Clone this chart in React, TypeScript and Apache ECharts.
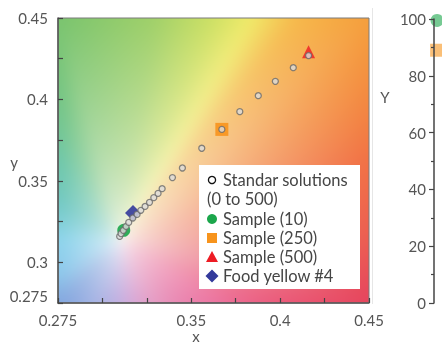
import React, { useEffect, useRef } from "react";
import * as echarts from "echarts";

// ---- data ----
const xTickLabels = ["0.275", "0.35", "0.4", "0.45"];
const yTickLabels = ["0.275", "0.3", "0.35", "0.4", "0.45"];
const rightTickLabels = ["0", "20", "40", "60", "80", "100"];

const stdX = [0.3097, 0.3105, 0.3118, 0.3133, 0.3148, 0.3171, 0.3195, 0.3216, 0.324, 0.3265, 0.3289, 0.3313, 0.3336, 0.3394, 0.345, 0.3559, 0.3672, 0.3773, 0.3877, 0.3973, 0.4074, 0.416];
const stdY = [0.3159, 0.3176, 0.3196, 0.322, 0.3245, 0.3272, 0.3294, 0.3319, 0.3343, 0.3368, 0.3397, 0.3423, 0.3452, 0.352, 0.3579, 0.37, 0.3816, 0.3925, 0.4023, 0.4111, 0.4195, 0.4269];

const sample10 = [[0.312, 0.3196]];
const sample250 = [[0.3672, 0.3816]];
const sample500 = [[0.416, 0.4293]];
const foodYellow4 = [[0.3172, 0.3303]];

// partially visible marks of the neighbouring panel (cut off by the picture's edge)
const rightGreen = [[1.4, 99.5]];
const rightOrange = [[1.2, 89]];

const legendNames = ["Standar solutions", "(0 to 500)", "Sample (10)", "Sample (250)", "Sample (500)", "Food yellow #4"];

// ---- layout / style ----
const GL = 58, GT = 18, GW = 311, GH = 285;
const FONT = "Lato, 'Open Sans', sans-serif";
const C_GREEN = "#1ba64b";
const C_ORANGE = "#f7941d";
const C_RED = "#ed1c24";
const C_BLUE = "#333a9b";

// hue anchors (degrees around the white point) for the chromaticity-like background
const hueAnchors: [number, number[]][] = [
  [0, [236, 92, 80]],
  [19, [241, 112, 68]],
  [44, [245, 158, 60]],
  [54, [246, 185, 75]],
  [61.5, [240, 234, 105]],
  [69, [205, 224, 100]],
  [82, [160, 208, 105]],
  [104, [122, 196, 110]],
  [110, [115, 196, 128]],
  [124, [108, 198, 168]],
  [146, [112, 200, 195]],
  [180, [140, 212, 236]],
  [212, [140, 200, 235]],
  [229, [130, 165, 222]],
  [248, [165, 180, 228]],
  [270, [195, 175, 225]],
  [280, [215, 168, 215]],
  [297, [230, 155, 195]],
  [325, [236, 115, 160]],
  [340, [234, 82, 112]],
  [345, [230, 68, 92]],
  [360, [236, 92, 80]],
];

function hueColor(a: number) {
  for (let i = 0; i < hueAnchors.length - 1; i++) {
    const [a0, c0] = hueAnchors[i];
    const [a1, c1] = hueAnchors[i + 1];
    if (a >= a0 && a <= a1) {
      const t = (a - a0) / (a1 - a0 || 1);
      return [0, 1, 2].map((k) => c0[k] + (c1[k] - c0[k]) * t);
    }
  }
  return hueAnchors[0][1];
}

function boxBlur(src: Float32Array, w: number, h: number, r: number) {
  const tmp = new Float32Array(src.length);
  // horizontal
  for (let y = 0; y < h; y++) {
    for (let x = 0; x < w; x++) {
      let s0 = 0, s1 = 0, s2 = 0, n = 0;
      for (let k = -r; k <= r; k++) {
        const xx = Math.min(w - 1, Math.max(0, x + k));
        const i = (y * w + xx) * 3;
        s0 += src[i]; s1 += src[i + 1]; s2 += src[i + 2]; n++;
      }
      const o = (y * w + x) * 3;
      tmp[o] = s0 / n; tmp[o + 1] = s1 / n; tmp[o + 2] = s2 / n;
    }
  }
  // vertical
  for (let x = 0; x < w; x++) {
    for (let y = 0; y < h; y++) {
      let s0 = 0, s1 = 0, s2 = 0, n = 0;
      for (let k = -r; k <= r; k++) {
        const yy = Math.min(h - 1, Math.max(0, y + k));
        const i = (yy * w + x) * 3;
        s0 += tmp[i]; s1 += tmp[i + 1]; s2 += tmp[i + 2]; n++;
      }
      const o = (y * w + x) * 3;
      src[o] = s0 / n; src[o + 1] = s1 / n; src[o + 2] = s2 / n;
    }
  }
}

function buildBackground(w: number, h: number): string {
  const cv = document.createElement("canvas");
  cv.width = w;
  cv.height = h;
  const ctx = cv.getContext("2d")!;
  const buf = new Float32Array(w * h * 3);
  const wu = 0.2, wv = 0.22;
  for (let py = 0; py < h; py++) {
    for (let px = 0; px < w; px++) {
      const u = px / (w - 1);
      const v = 1 - py / (h - 1);
      const dx = u - wu, dy = v - wv;
      const r = Math.sqrt(dx * dx + dy * dy);
      let ang = (Math.atan2(dy, dx) * 180) / Math.PI;
      if (ang < 0) ang += 360;
      let col = [250, 250, 250];
      if (r > 1e-6) {
        const cx = dx / r, cy = dy / r;
        let te = 1e9;
        if (cx > 0) te = Math.min(te, (1 - wu) / cx);
        if (cx < 0) te = Math.min(te, -wu / cx);
        if (cy > 0) te = Math.min(te, (1 - wv) / cy);
        if (cy < 0) te = Math.min(te, -wv / cy);
        const s = Math.pow(Math.min(1, r / te), 0.6);
        const hc = hueColor(ang);
        col = [0, 1, 2].map((k) => 250 + (hc[k] - 250) * s);
      }
      const o = (py * w + px) * 3;
      buf[o] = col[0]; buf[o + 1] = col[1]; buf[o + 2] = col[2];
    }
  }
  boxBlur(buf, w, h, 7);
  boxBlur(buf, w, h, 7);
  const img = ctx.createImageData(w, h);
  for (let i = 0; i < w * h; i++) {
    img.data[i * 4] = buf[i * 3];
    img.data[i * 4 + 1] = buf[i * 3 + 1];
    img.data[i * 4 + 2] = buf[i * 3 + 2];
    img.data[i * 4 + 3] = 255;
  }
  ctx.putImageData(img, 0, 0);
  return cv.toDataURL("image/png");
}

const findLabel = (v: number, list: string[]) => list.find((s) => Math.abs(parseFloat(s) - v) < 1e-6);

export default function App() {
  const ref = useRef<HTMLDivElement>(null);
  useEffect(() => {
    if (!ref.current) return;
    const chart = echarts.init(ref.current, undefined, { renderer: "svg" });
    const bg = buildBackground(GW, GH);
    const stdData = stdX.map((x, i) => [x, stdY[i]]);

    const LX = 199, LY = 165, LW = 161, LH = 124;
    const iconX = 212, textX = 223;
    const rows = [180, 199, 219, 238, 257, 276];
    const textStyleBase = { fontSize: 16.5, fontFamily: FONT, fill: "#454545", verticalAlign: "middle", align: "left" };

    const option: any = {
      animation: false,
      grid: [
        { left: GL, top: GT, width: GW, height: GH, show: true, borderColor: "#7a7a7a", borderWidth: 1, backgroundColor: "transparent" },
        { left: 434, top: 19, right: -80, height: 284 },
      ],
      xAxis: [
        {
          gridIndex: 0, type: "value", min: 0.275, max: 0.45, interval: 0.025, z: 10,
          axisLine: { show: true, onZero: false, lineStyle: { color: "#555", width: 1.5 } },
          axisTick: { show: true, inside: true, length: 5, lineStyle: { color: "#444", width: 1.2 } },
          axisLabel: {
            show: true, margin: 9, fontSize: 15, fontFamily: FONT, color: "#555",
            formatter: (v: number) => findLabel(v, xTickLabels) || "",
          },
          splitLine: { show: false },
        },
        { gridIndex: 1, type: "value", min: 0, max: 10, show: false },
      ],
      yAxis: [
        {
          gridIndex: 0, type: "value", min: 0.275, max: 0.45, interval: 0.025, z: 10,
          axisLine: { show: true, onZero: false, lineStyle: { color: "#555", width: 1.5 } },
          axisTick: { show: true, inside: true, length: 5, lineStyle: { color: "#444", width: 1.2 } },
          axisLabel: {
            show: true, margin: 10, fontSize: 15, fontFamily: FONT, color: "#555",
            formatter: (v: number) => {
              const s = findLabel(v, yTickLabels);
              if (!s) return "";
              return Math.abs(v - 0.275) < 1e-6 ? "{lo|" + s + "}" : s;
            },
            rich: { lo: { fontSize: 15, fontFamily: FONT, color: "#555", padding: [0, 0, 14, 0] } },
          },
          splitLine: { show: false },
        },
        {
          gridIndex: 1, type: "value", min: 0, max: 100, interval: 20, z: 10,
          axisLine: { show: true, onZero: false, lineStyle: { color: "#444", width: 1.5 } },
          axisTick: { show: true, inside: false, length: 5, lineStyle: { color: "#444", width: 1.2 } },
          minorTick: { show: true, splitNumber: 2, length: 3, lineStyle: { color: "#444", width: 1.2 } },
          axisLabel: {
            show: true, margin: 8, fontSize: 15, fontFamily: FONT, color: "#555",
            formatter: (v: number) => (rightTickLabels.includes(String(v)) ? String(v) : ""),
          },
          splitLine: { show: false },
        },
        {
          gridIndex: 1, type: "value", min: 0, max: 100, interval: 20, z: 10,
          axisLine: { show: false, onZero: false },
          axisTick: { show: true, inside: true, length: 4, lineStyle: { color: "#444", width: 1.2 } },
          minorTick: { show: true, splitNumber: 2, length: 3, lineStyle: { color: "#444", width: 1.2 } },
          axisLabel: { show: false },
          splitLine: { show: false },
        },
      ],
      graphic: [
        { type: "image", z: -100, zlevel: 0, silent: true, style: { image: bg, x: GL, y: GT, width: GW, height: GH } },
        { type: "line", z: -100, silent: true, shape: { x1: 372.5, y1: 8, x2: 372.5, y2: 304 }, style: { stroke: "#e6e6e6", lineWidth: 1 } },
        { type: "text", style: { text: "y", x: 14, y: 162, fontSize: 15, fontFamily: FONT, fill: "#555", align: "center", verticalAlign: "middle" } },
        { type: "text", style: { text: "x", x: 196, y: 336, fontSize: 15, fontFamily: FONT, fill: "#555", align: "center", verticalAlign: "middle" } },
        { type: "text", style: { text: "Y", x: 385, y: 97, fontSize: 15, fontFamily: FONT, fill: "#555", align: "center", verticalAlign: "middle" } },
        { type: "rect", z: 50, shape: { x: LX, y: LY, width: LW, height: LH }, style: { fill: "#fff" } },
        { type: "circle", z: 51, shape: { cx: iconX, cy: rows[0], r: 3.6 }, style: { fill: "#fff", stroke: "#111", lineWidth: 1.3 } },
        { type: "text", z: 51, style: { ...textStyleBase, text: legendNames[0], x: textX, y: rows[0] } },
        { type: "text", z: 51, style: { ...textStyleBase, text: legendNames[1], x: 207, y: rows[1] } },
        { type: "circle", z: 51, shape: { cx: iconX, cy: rows[2], r: 5 }, style: { fill: C_GREEN } },
        { type: "text", z: 51, style: { ...textStyleBase, text: legendNames[2], x: textX, y: rows[2] } },
        { type: "rect", z: 51, shape: { x: iconX - 5, y: rows[3] - 5, width: 10, height: 10 }, style: { fill: C_ORANGE } },
        { type: "text", z: 51, style: { ...textStyleBase, text: legendNames[3], x: textX, y: rows[3] } },
        { type: "polygon", z: 51, shape: { points: [[iconX, rows[4] - 6], [iconX + 6, rows[4] + 5], [iconX - 6, rows[4] + 5]] }, style: { fill: C_RED } },
        { type: "text", z: 51, style: { ...textStyleBase, text: legendNames[4], x: textX, y: rows[4] } },
        { type: "polygon", z: 51, shape: { points: [[iconX, rows[5] - 6.5], [iconX + 6.5, rows[5]], [iconX, rows[5] + 6.5], [iconX - 6.5, rows[5]]] }, style: { fill: C_BLUE } },
        { type: "text", z: 51, style: { ...textStyleBase, text: legendNames[5], x: textX, y: rows[5] } },
      ],
      series: [
        { type: "scatter", name: "Sample (10)", xAxisIndex: 0, yAxisIndex: 0, data: sample10, symbol: "circle", symbolSize: 13, z: 3, itemStyle: { color: C_GREEN, opacity: 0.9 } },
        { type: "scatter", name: "Food yellow #4", xAxisIndex: 0, yAxisIndex: 0, data: foodYellow4, symbol: "diamond", symbolSize: 16, z: 3, itemStyle: { color: C_BLUE, opacity: 0.9 } },
        { type: "scatter", name: "Sample (250)", xAxisIndex: 0, yAxisIndex: 0, data: sample250, symbol: "rect", symbolSize: 13, z: 3, itemStyle: { color: C_ORANGE, opacity: 0.9 } },
        { type: "scatter", name: "Sample (500)", xAxisIndex: 0, yAxisIndex: 0, data: sample500, symbol: "triangle", symbolSize: 13, z: 3, itemStyle: { color: C_RED } },
        { type: "scatter", name: "Standar solutions", xAxisIndex: 0, yAxisIndex: 0, data: stdData, symbol: "circle", symbolSize: 6, z: 4, itemStyle: { color: "#dcdcdc", borderColor: "#6a6a6a", borderWidth: 1.3 } },
        { type: "scatter", xAxisIndex: 1, yAxisIndex: 1, data: rightGreen, symbol: "circle", symbolSize: 13, clip: false, itemStyle: { color: C_GREEN, opacity: 0.6 } },
        { type: "scatter", xAxisIndex: 1, yAxisIndex: 1, data: rightOrange, symbol: "rect", symbolSize: 13, clip: false, itemStyle: { color: C_ORANGE, opacity: 0.6 } },
      ],
    };
    chart.setOption(option);
    return () => chart.dispose();
  }, []);
  return <div ref={ref} style={{ position: "fixed", left: 0, top: 0, width: 442, height: 344 }} />;
}
